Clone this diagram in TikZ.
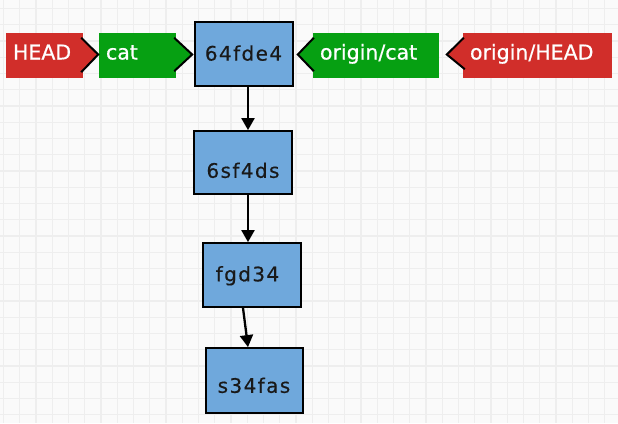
\documentclass[tikz,border=0pt]{standalone}
\usepackage{fontspec}
\setmainfont{DejaVu Sans}
\newfontfamily\labelfont[FakeBold=0.6]{DejaVu Sans}
\newfontfamily\boxfont[LetterSpace=7,FakeBold=0.4]{DejaVu Sans}
\usetikzlibrary{calc,arrows.meta}
\definecolor{bgc}{HTML}{FAFAFA}
\definecolor{gridc}{HTML}{EEEEEE}
\definecolor{gitred}{HTML}{D12E2A}
\definecolor{gitgreen}{HTML}{06A012}
\definecolor{gitblue}{HTML}{6FA8DC}
\tikzset{
  ptr/.style={inner xsep=7pt, inner ysep=0pt, text width=#1, align=left,
    minimum height=45, text=white, text height=15pt, text depth=7pt,
    font=\labelfont\fontsize{20.5}{24}\selectfont},
  chev/.style={draw=black, line width=2pt, line join=miter},
  commit/.style={draw=black, fill=gitblue, line width=1.8pt, inner sep=0pt},
  committext/.style={inner sep=0pt, text height=14.6pt, text depth=0pt,
    font=\boxfont\fontsize{20}{24}\selectfont, text=black!90},
  conn/.style={draw=black, line width=2.3pt, -{Triangle[length=12pt,width=13pt]}},
  gridline/.style={draw=gridc, line width=1.2pt}
}
\begin{document}
\begin{tikzpicture}[x=1pt,y=-1pt]
\fill[bgc] (0,0) rectangle (618,423);
\useasboundingbox (0,0) rectangle (618,423);
\foreach \i in {0,...,37} \draw[gridline] ({3.5+16.25*\i},0) -- ++(0,423);
\foreach \j in {0,...,25} \draw[gridline] (0,{8.5+16.25*\j}) -- ++(618,0);

% pointers
\node[ptr=63pt, fill=gitred] (head) at (44.5,55.5) {HEAD};
\node[ptr=63pt, fill=gitgreen] (cat) at (137.5,55.5) {cat};
\node[ptr=112pt, fill=gitgreen] (ocat) at (376,55.5) {origin/cat};
\node[ptr=135pt, fill=gitred] (ohead) at (537.5,55.5) {origin/HEAD};

% right-pointing tips
\fill[gitred] ($(head.north east)+(-2,5)$) -- ($(head.east)+(15,-1)$) -- ($(head.south east)+(-2,-6)$) -- cycle;
\draw[chev] ($(head.north east)+(-2,5)$) -- ($(head.east)+(15,-1)$) -- ($(head.south east)+(-2,-6)$);
\fill[gitgreen] ($(cat.north east)+(-2,5)$) -- ($(cat.east)+(16,-1)$) -- ($(cat.south east)+(-2,-7)$) -- cycle;
\draw[chev] ($(cat.north east)+(-2,5)$) -- ($(cat.east)+(16,-1)$) -- ($(cat.south east)+(-2,-7)$);
% left-pointing tips
\fill[gitgreen] ($(ocat.north west)+(1,5)$) -- ($(ocat.west)+(-15,-1)$) -- ($(ocat.south west)+(1,-7)$) -- cycle;
\draw[chev] ($(ocat.north west)+(1,5)$) -- ($(ocat.west)+(-15,-1)$) -- ($(ocat.south west)+(1,-7)$);
\fill[gitred] ($(ohead.north west)+(1,5)$) -- ($(ohead.west)+(-16,-1)$) -- ($(ohead.south west)+(2,-9)$) -- cycle;
\draw[chev] ($(ohead.north west)+(1,5)$) -- ($(ohead.west)+(-16,-1)$) -- ($(ohead.south west)+(2,-9)$);

% commits
\node[commit, minimum width=98, minimum height=64] (c1) at (244,54) {};
\node[commit, minimum width=98, minimum height=63] (c2) at (243,162.5) {};
\node[commit, minimum width=98, minimum height=64] (c3) at (252,275) {};
\node[commit, minimum width=97, minimum height=65] (c4) at (254.5,380.5) {};
\node[committext] (t1) at (243.5,53.3) {64fde4};
\node[committext] (t2) at (243,170.5) {6sf4ds};
\node[committext] (t3) at (247.5,274) {fgd34};
\node[committext] (t4) at (254,385.5) {s34fas};

% connectors
\draw[conn] ([xshift=4pt]c1.south) -- ([xshift=5pt]c2.north);
\draw[conn] ([xshift=5pt]c2.south) -- ([xshift=-4pt]c3.north);
\draw[conn] ([xshift=-9pt]c3.south) -- ([xshift=-6.5pt]c4.north);
\end{tikzpicture}
\end{document}
